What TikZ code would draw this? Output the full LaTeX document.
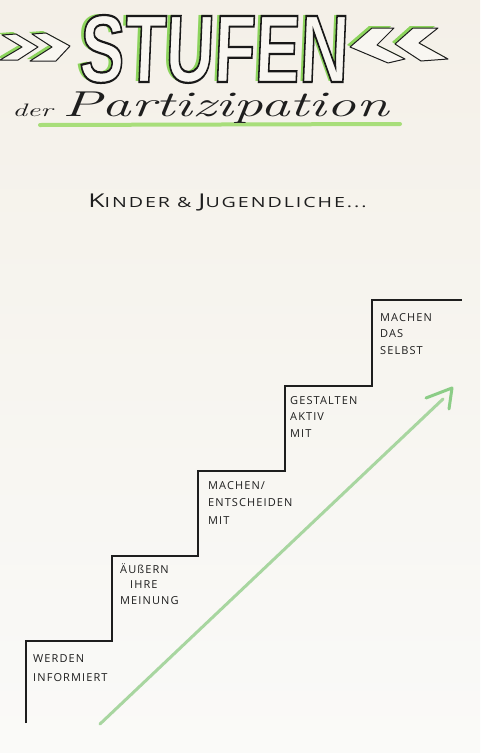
\documentclass[tikz,border=0pt]{standalone}
\usepackage{fontspec}
\usepackage{graphicx}
\definecolor{paper}{RGB}{248,246,241}
\definecolor{papertop}{RGB}{244,240,232}
\definecolor{paperbot}{RGB}{250,250,248}
\definecolor{ink}{RGB}{30,30,30}
\definecolor{tgreen}{RGB}{140,212,92}
\definecolor{lgreen}{RGB}{168,222,122}
\definecolor{agreen}{RGB}{168,214,160}
\definecolor{hgreen}{RGB}{140,205,135}
\newcommand\hollow[1]{{\color{paper}\special{pdf:code 2 Tr 2.2 w 0.1 G}#1\special{pdf:code 0 Tr 0.4 w}}}
\newfontfamily\hand[LetterSpace=10]{Open Sans}
\newfontfamily\titlefnt{Liberation Sans}
\tikzset{
  lab/.style={font=\hand\fontsize{11}{17}\selectfont, align=left, inner sep=0pt, anchor=north west, text=ink},
  stair/.style={draw=ink, line width=1.5pt, line join=miter},
  chev/.style={fill=paper, draw=ink, line width=1pt, line join=round},
  chevsh/.style={fill=tgreen},
  arrowline/.style={draw=agreen, line width=3pt, line cap=round},
  headline/.style={draw=hgreen, line width=3pt, line cap=round, line join=round}
}
\begin{document}
\begin{tikzpicture}[x=1pt,y=-1pt]
\useasboundingbox (0,0) rectangle (480,753);
\shade[top color=papertop, bottom color=paperbot] (0,0) rectangle (480,753);
% chevrons left (pointing right)
\fill[chevsh] (-1,33) -- (13,32) -- (35,45) -- (15,58) -- (-3,58) -- (19,45) -- cycle;
\draw[chev] (2,35) -- (16,34) -- (38,47) -- (18,60) -- (0,60) -- (22,47) -- cycle;
\fill[chevsh] (29,32) -- (43,31) -- (67,44) -- (53,59) -- (27,59) -- (49,45) -- cycle;
\draw[chev] (32,34) -- (46,33) -- (70,46) -- (56,61) -- (30,61) -- (52,47) -- cycle;
% chevrons right (pointing left)
\fill[chevsh] (347,45) -- (369,26) -- (391,26) -- (374,43) -- (402,57) -- (385,61) -- cycle;
\draw[chev] (350,47) -- (372,28) -- (394,28) -- (377,45) -- (405,59) -- (388,63) -- cycle;
\fill[chevsh] (392,42) -- (410,26) -- (435,26) -- (416,41) -- (445,57) -- (418,59) -- cycle;
\draw[chev] (395,44) -- (413,28) -- (438,28) -- (419,43) -- (448,59) -- (421,61) -- cycle;
% title
\node[font=\titlefnt\bfseries\fontsize{96}{96}\selectfont, xscale=0.7, xslant=0.06, inner sep=0pt, anchor=base] (title) at (213,82)
  {\rlap{\kern-4pt\raisebox{1pt}{\color{tgreen}STUFEN}}\hollow{STUFEN}};
% subtitle with underline
\draw[draw=lgreen, line width=4pt, line cap=round] (40,125) -- (400,124);
\node[font=\itshape\fontsize{36}{36}\selectfont, xscale=1.64, inner sep=0pt, anchor=base west, text=ink] (sub) at (12,116)
  {{\fontsize{18}{18}\selectfont der}\hspace{6pt}Partizipation};
% headline
\node[font=\hand\fontsize{14}{14}\selectfont, xscale=1.4, inner sep=0pt, anchor=base west, text=ink] (head) at (88,207)
  {{\fontsize{19}{19}\selectfont K}INDER \& {\fontsize{19}{19}\selectfont J}UGENDLICHE...};
% staircase
\draw[stair] (26,723) -- (26,641) -- (112,641) -- (112,556) -- (198,556) -- (198,471) -- (285,471) -- (285,386) -- (372,386) -- (372,300) -- (462,300);
% labels
\node[lab, font=\hand\fontsize{11}{19}\selectfont] (s1) at (33,654) {WERDEN\\INFORMIERT};
\node[lab, font=\hand\fontsize{11}{15.5}\selectfont] (s2) at (120,563) {ÄUßERN\\\hspace*{10pt}IHRE\\MEINUNG};
\node[lab, font=\hand\fontsize{11}{17.5}\selectfont] (s3) at (208,481) {MACHEN/\\ENTSCHEIDEN\\MIT};
\node[lab, font=\hand\fontsize{11}{16.5}\selectfont] (s4) at (290,396) {GESTALTEN\\AKTIV\\MIT};
\node[lab, font=\hand\fontsize{11}{16.5}\selectfont] (s5) at (380,313) {MACHEN\\DAS\\SELBST};
% arrow
\coordinate (a0) at (100,724);
\coordinate (a1) at (443,399);
\coordinate (tip) at (452,388);
\coordinate (h1) at (426,398);
\coordinate (h2) at (449,409);
\draw[arrowline] (a0) -- (a1);
\draw[headline] (h1) -- (tip) -- (h2);
\end{tikzpicture}
\end{document}
